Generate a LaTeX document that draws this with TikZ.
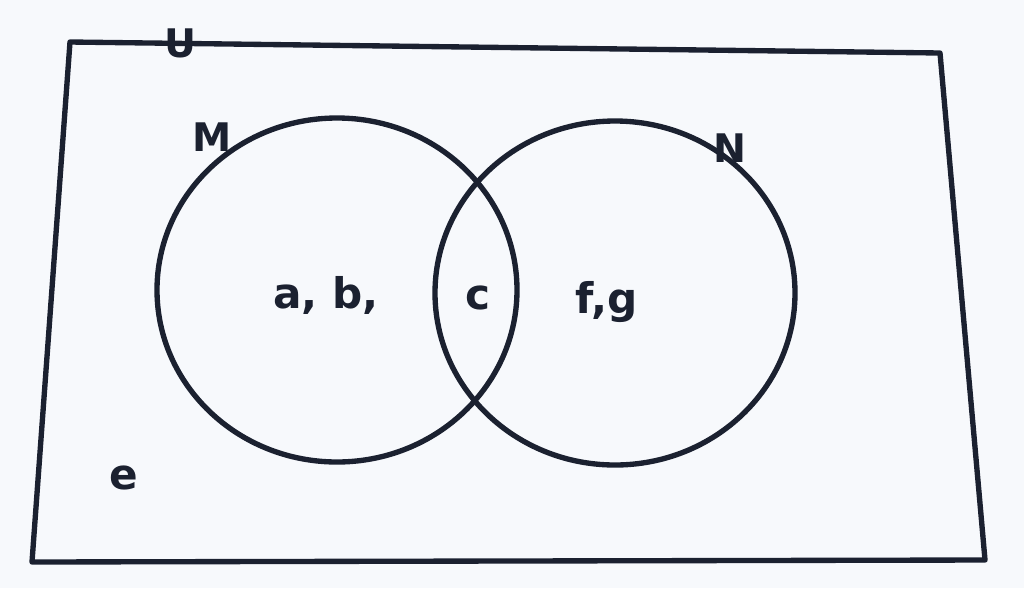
\documentclass[tikz,border=0pt]{standalone}
\usepackage{fontspec}
\setmainfont{DejaVu Sans}
\definecolor{ink}{HTML}{1B2130}
\definecolor{paper}{HTML}{F7F9FC}
\tikzset{
  outline/.style={draw=ink, line width=3.8pt, line join=round, line cap=round},
  setlabel/.style={text=ink, font=\fontsize{28}{32}\selectfont\bfseries, inner sep=0pt},
  elem/.style={text=ink, font=\fontsize{30}{34}\selectfont\bfseries, inner sep=0pt}
}
\begin{document}
\begin{tikzpicture}[x=0.025cm, y=-0.025cm]
  \fill[paper] (0,0) rectangle (1024,588);
  \useasboundingbox (0,0) rectangle (1024,588);
  % universal set (photographed rectangle, slightly skewed)
  \draw[outline] (70,42) -- (940,53) -- (985,560) -- (32,562) -- cycle;
  % sets M and N
  \draw[outline] (337,290) ellipse [x radius=180, y radius=172];
  \draw[outline] (615,293) ellipse [x radius=180, y radius=172];
  % labels
  \node[setlabel] (U) at (180,43) {U};
  \node[setlabel] (M) at (212,137) {M};
  \node[setlabel] (N) at (730,148) {N};
  \node[elem] (ab) at (326,295) {a, b,};
  \node[elem] (c) at (478,298) {c};
  \node[elem] (fg) at (607,302) {f,g};
  \node[elem] (e) at (124,478) {e};
\end{tikzpicture}
\end{document}
